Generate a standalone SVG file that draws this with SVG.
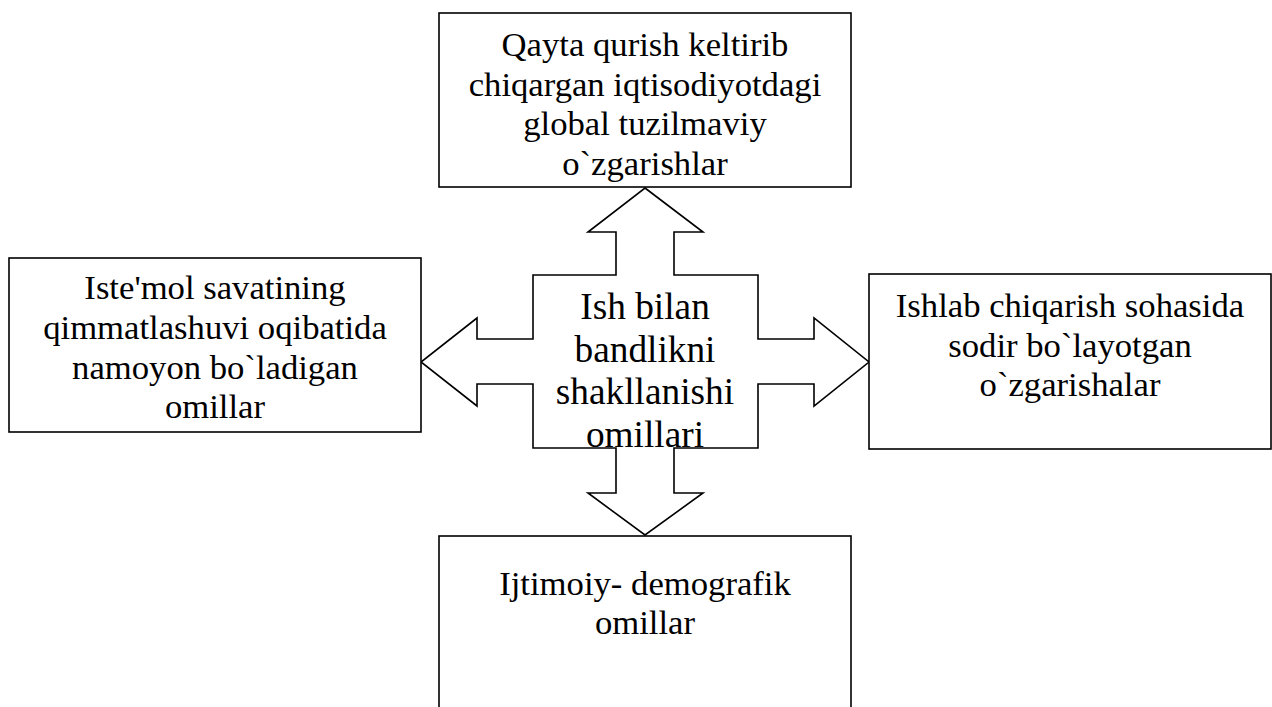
<svg xmlns="http://www.w3.org/2000/svg" width="1272" height="707" viewBox="0 0 1272 707">
<style>
.box{fill:#fff;stroke:#000;stroke-width:1.6}
text{font-family:'Liberation Serif','Times New Roman','DejaVu Serif',serif;font-size:34.67px;fill:#000;text-anchor:middle}
text.c{font-size:37.33px}
.arrow{fill:#fff;stroke:#000;stroke-width:1.6;stroke-linejoin:miter}
</style>
<rect width="1272" height="707" fill="#fff"/>
<g id="connectors">
<path class="arrow" d="M645,188 L703,232 L674,232 L674,275 L758,275 L758,339 L814,339 L814,318 L869,362 L814,406 L814,384 L758,384 L758,448 L674,448 L674,493 L703,493 L645,535 L588,493 L616,493 L616,448 L533,448 L533,384 L477,384 L477,406 L421,362 L477,318 L477,339 L533,339 L533,275 L616,275 L616,232 L588,232 Z"/>
</g>
<g id="center" font-family="Liberation Serif, serif">
<text class="c" x="645" y="319">Ish bilan</text>
<text class="c" x="645" y="361.7">bandlikni</text>
<text class="c" x="645" y="404.4">shakllanishi</text>
<text class="c" x="645" y="447">omillari</text>
</g>
<g id="top" font-family="Liberation Serif, serif">
<rect class="box" x="439" y="13" width="412" height="174"/>
<text x="645" y="56">Qayta qurish keltirib</text>
<text x="645" y="95.5">chiqargan iqtisodiyotdagi</text>
<text x="645" y="135">global tuzilmaviy</text>
<text x="645" y="174.5">o`zgarishlar</text>
</g>
<g id="left" font-family="Liberation Serif, serif">
<rect class="box" x="9" y="258" width="412" height="174"/>
<text x="215" y="299">Iste'mol savatining</text>
<text x="215" y="339">qimmatlashuvi oqibatida</text>
<text x="215" y="379">namoyon bo`ladigan</text>
<text x="215" y="418">omillar</text>
</g>
<g id="right" font-family="Liberation Serif, serif">
<rect class="box" x="869" y="274" width="402" height="175"/>
<text x="1070" y="317">Ishlab chiqarish sohasida</text>
<text x="1070" y="356.5">sodir bo`layotgan</text>
<text x="1070" y="396">o`zgarishalar</text>
</g>
<g id="bottom" font-family="Liberation Serif, serif">
<rect class="box" x="439" y="536" width="412" height="190"/>
<text x="645" y="595">Ijtimoiy- demografik</text>
<text x="645" y="634">omillar</text>
</g>
</svg>
